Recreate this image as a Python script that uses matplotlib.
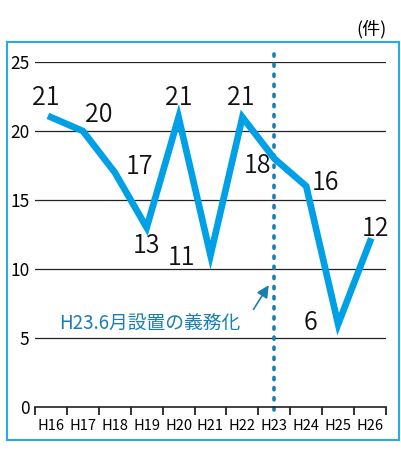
import matplotlib.pyplot as plt
from matplotlib.patches import Rectangle

plt.rcParams['font.family'] = ['Noto Sans CJK JP', 'DejaVu Sans']

years = ['H16', 'H17', 'H18', 'H19', 'H20', 'H21', 'H22', 'H23', 'H24', 'H25', 'H26']
counts = [21, 20, 17, 13, 21, 11, 21, 18, 16, 6, 12]
# label offsets in points (dx, dy)
label_offsets = [(-3.6, 13.7), (11.5, 11.5), (18, 4), (0, -13), (0, 13.7), (-21, -2),
                 (-1.4, 13.7), (-12, -5), (14, 2), (-20, 1), (4, 9)]

fig = plt.figure(figsize=(4.01, 4.5), dpi=100)
fig.patches.append(Rectangle((7 / 401, 10 / 450), 392 / 401, 398 / 450, transform=fig.transFigure,
                             fill=False, edgecolor='#29abe2', linewidth=1.5))
ax = fig.add_axes([35 / 401, 43 / 450, 351 / 401, 345 / 450])

x = list(range(len(years)))
ax.set_xlim(-0.5, len(years) - 0.5)
ax.set_ylim(0, 25)

for v in [5, 10, 15, 20, 25]:
    ax.axhline(v, color='#222222', linewidth=0.9, zorder=1)

ax.plot(x, counts, color='#00a0e6', linewidth=4.8, solid_joinstyle='miter', zorder=3)

for xi, v, (dx, dy) in zip(x, counts, label_offsets):
    ax.annotate(str(v), (xi, v), xytext=(dx, dy), textcoords='offset points',
                ha='center', va='center', fontsize=18, fontweight=350,
                color='#111111', zorder=4)

ax.plot([7, 7], [-0.2, 25.9], linestyle=(0, (0.6, 2.2)), color='#1a7fb0', linewidth=2.6,
        dash_capstyle='round', clip_on=False, zorder=2)
ax.annotate('', xy=(6.87, 9.0), xytext=(6.3, 6.9),
            arrowprops=dict(arrowstyle='-|>', color='#1a7fb0', lw=1.2, mutation_scale=18))
ax.text(3.1, 6.1, 'H23.6月設置の義務化', color='#1a7fb0', fontsize=13.5, ha='center', va='center')

for s in ['top', 'right', 'left']:
    ax.spines[s].set_visible(False)
ax.spines['bottom'].set_color('#222222')
ax.spines['bottom'].set_linewidth(1.2)
ax.set_xticks([i - 0.5 for i in range(len(years) + 1)])
ax.set_xticklabels([])
ax.set_xticks(x, minor=True)
ax.set_xticklabels(years, minor=True, fontsize=10.5)
ax.tick_params(axis='x', which='major', direction='out', length=6, width=1.3, color='#222222')
ax.tick_params(axis='x', which='minor', length=0, pad=9)
ax.set_yticks([0, 5, 10, 15, 20, 25])
ax.tick_params(axis='y', length=0, labelsize=12.5, pad=4)

fig.text(387 / 401, 1 - 29 / 450, '(件)', ha='right', va='center', fontsize=13)

fig.savefig('out.png', dpi=100)
